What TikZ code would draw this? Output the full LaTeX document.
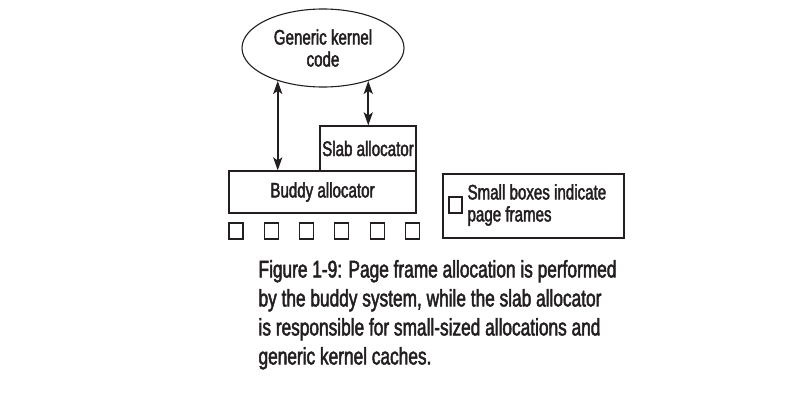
\documentclass[tikz,border=0pt]{standalone}
\usepackage{fontspec}
\setmainfont{Liberation Sans}[FakeStretch=0.72,FakeBold=2]
\usetikzlibrary{shapes.geometric,arrows.meta}

\definecolor{inkgray}{HTML}{231F20}

\begin{document}
\begin{tikzpicture}[x=1pt,y=-1pt,
  line width=1.1pt, draw=inkgray, text=inkgray,
  label text/.style={font=\fontsize{21}{22}\selectfont, align=center},
  alloc box/.style={draw, rectangle, inner sep=0pt, label text},
  page frame/.style={draw, rectangle, inner sep=0pt, minimum width=14, minimum height=16},
  both ways/.style={line width=2.2pt, {Stealth[length=13pt,width=9pt,inset=3pt]}-{Stealth[length=13pt,width=9pt,inset=3pt]}}]

% Fix the page size
\useasboundingbox (0,0) rectangle (800,407);

% Generic kernel code
\node[draw, ellipse, inner sep=0pt, minimum width=162, minimum height=78, label text] (gen) at (323,48) {Generic kernel\\code};

% Allocators
\node[alloc box, minimum width=96, minimum height=45] (slab) at (368,148.5) {Slab allocator};
\node[alloc box, minimum width=187, minimum height=42] (buddy) at (322.5,192) {Buddy allocator};

% Page frames under the buddy allocator
\foreach \i in {0,...,5}
  \node[page frame] (pf\i) at ({236+35.3*\i},231) {};

% Arrows to the allocators
\draw[both ways] (gen.216) -- (gen.216 |- buddy.north);
\draw[both ways] (gen.324) -- (gen.324 |- slab.north);

% Legend
\node[draw, rectangle, minimum width=181, minimum height=64] (legend) at (533.5,206) {};
\node[page frame, minimum width=13] (key) at (455.5,205) {};
\node[label text, align=left, anchor=west, inner sep=0pt] (keytext) at (467,205) {Small boxes indicate\\page frames};

% Caption
\node[anchor=north west, inner sep=0pt, align=left, font=\fontsize{24}{29}\selectfont] (caption) at (258,259.5)
  {Figure 1-9: Page frame allocation is performed\\
   by the buddy system, while the slab allocator\\
   is responsible for small-sized allocations and\\
   generic kernel caches.};

\end{tikzpicture}
\end{document}
